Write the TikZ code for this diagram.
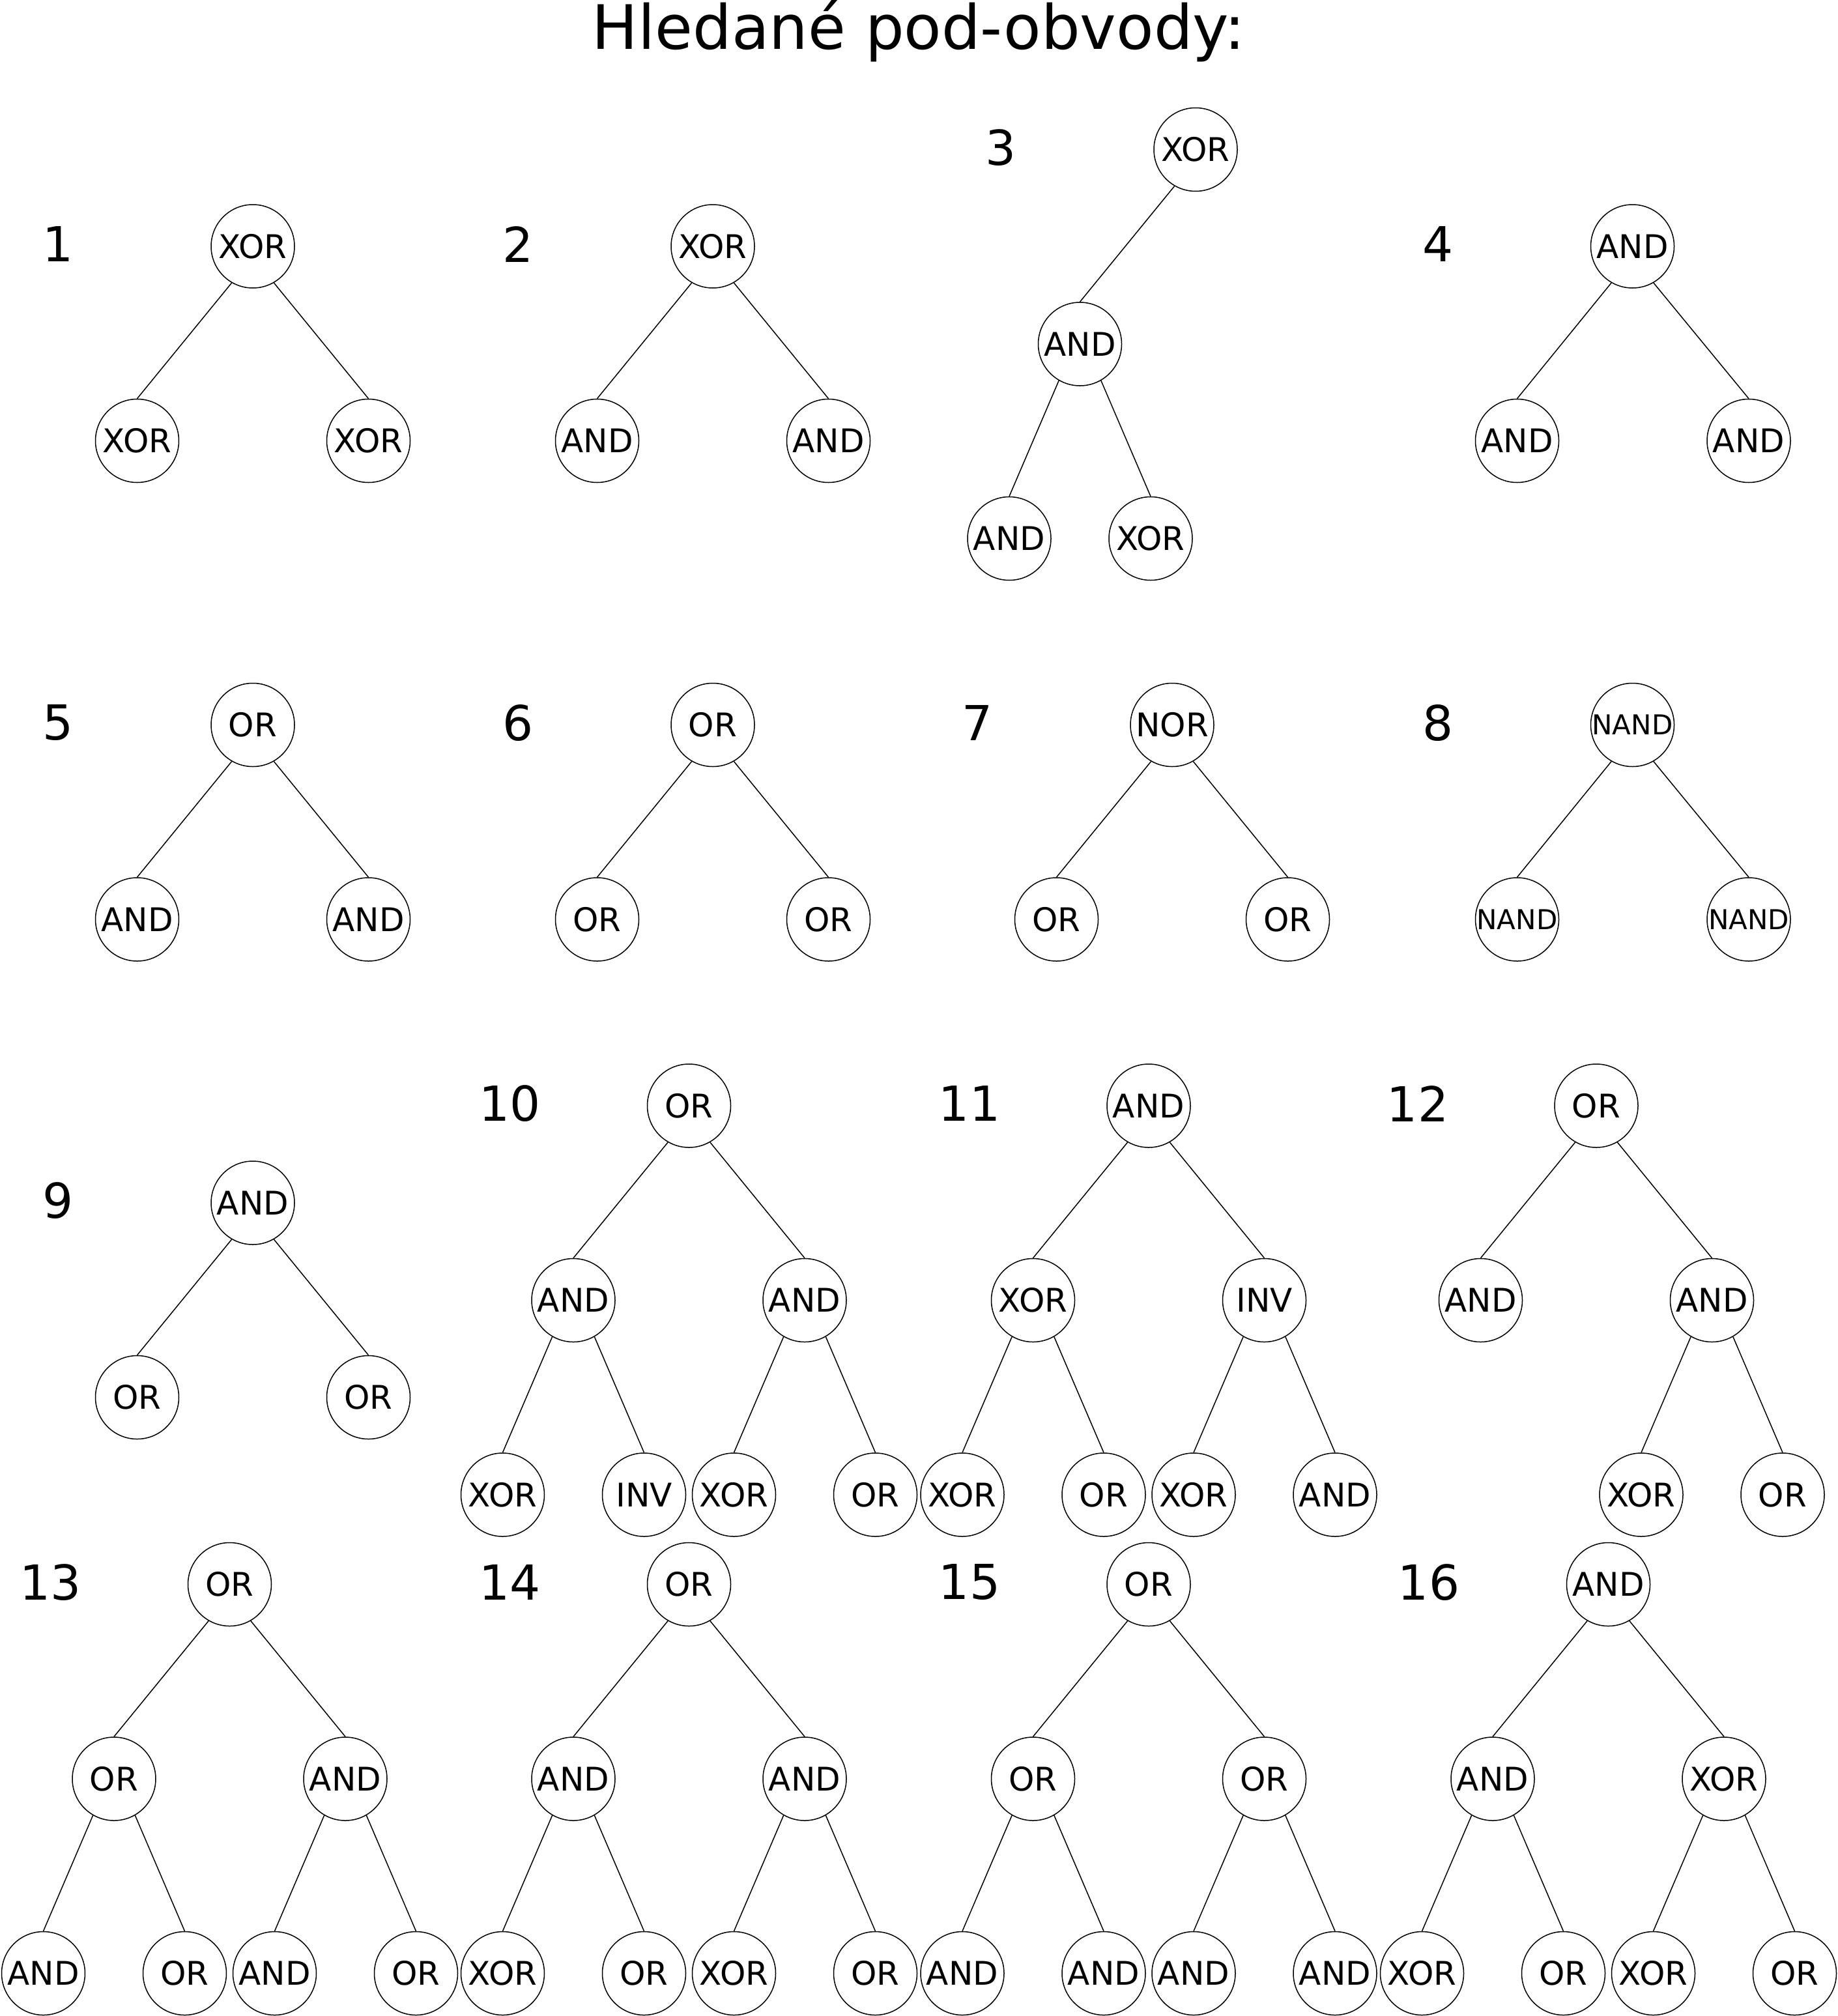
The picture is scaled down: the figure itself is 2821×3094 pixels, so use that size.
\documentclass[tikz,border=0pt]{standalone}
\usepackage{fontspec}
\setmainfont{DejaVu Sans}
\begin{document}
\begin{tikzpicture}[x=1pt, y=-1pt,
    gate/.style={draw, circle, line width=1.5pt, minimum size=128pt, inner sep=0pt,
        font=\fontsize{50}{60}\selectfont},
    small/.style={font=\fontsize{42}{50}\selectfont},
    nr/.style={font=\fontsize{74}{88}\selectfont, inner sep=0pt},
    every path/.style={line width=1.5pt}]
        \useasboundingbox (0, 0) rectangle (2821, 3094);
        \node[anchor=base, font=\fontsize{94}{110}\selectfont] (title) at (1410, 75) {Hledané pod-obvody:};

        % 1
        \node[nr] (n1) at (89.5, 375) {1};
        \node[gate] (g1) at (388, 378) {XOR};
        \node[gate] (g1l) at (210.5, 676.5) {XOR};
        \node[gate] (g1r) at (565.5, 676.5) {XOR};
        \draw (g1.-120) -- (g1l.north) (g1.-60) -- (g1r.north);

        % 2
        \node[nr] (n2) at (795.5, 375) {2};
        \node[gate] (g2) at (1094, 378) {XOR};
        \node[gate] (g2l) at (916.5, 676.5) {AND};
        \node[gate] (g2r) at (1271.5, 676.5) {AND};
        \draw (g2.-120) -- (g2l.north) (g2.-60) -- (g2r.north);

        % 3
        \node[nr] (n3) at (1536.5, 226.5) {3};
        \node[gate] (g3) at (1835, 229.5) {XOR};
        \node[gate] (g3l) at (1657.5, 528) {AND};
        \node[gate] (g3ll) at (1549, 826.5) {AND};
        \node[gate] (g3lr) at (1766, 826.5) {XOR};
        \draw (g3.-120) -- (g3l.north);
        \draw (g3l.-120) -- (g3ll.north) (g3l.-60) -- (g3lr.north);

        % 4
        \node[nr] (n4) at (2207, 375) {4};
        \node[gate] (g4) at (2505.5, 378) {AND};
        \node[gate] (g4l) at (2328.5, 676.5) {AND};
        \node[gate] (g4r) at (2684, 676.5) {AND};
        \draw (g4.-120) -- (g4l.north) (g4.-60) -- (g4r.north);

        % 5
        \node[nr] (n5) at (89.5, 1109.5) {5};
        \node[gate] (g5) at (388, 1112.5) {OR};
        \node[gate] (g5l) at (210.5, 1411) {AND};
        \node[gate] (g5r) at (565.5, 1411) {AND};
        \draw (g5.-120) -- (g5l.north) (g5.-60) -- (g5r.north);

        % 6
        \node[nr] (n6) at (795.5, 1109.5) {6};
        \node[gate] (g6) at (1094, 1112.5) {OR};
        \node[gate] (g6l) at (916.5, 1411) {OR};
        \node[gate] (g6r) at (1271.5, 1411) {OR};
        \draw (g6.-120) -- (g6l.north) (g6.-60) -- (g6r.north);

        % 7
        \node[nr] (n7) at (1500.5, 1109.5) {7};
        \node[gate] (g7) at (1799, 1112.5) {NOR};
        \node[gate] (g7l) at (1621.5, 1411) {OR};
        \node[gate] (g7r) at (1976.5, 1411) {OR};
        \draw (g7.-120) -- (g7l.north) (g7.-60) -- (g7r.north);

        % 8
        \node[nr] (n8) at (2207, 1109.5) {8};
        \node[gate, small] (g8) at (2505.5, 1112.5) {NAND};
        \node[gate, small] (g8l) at (2328.5, 1411) {NAND};
        \node[gate, small] (g8r) at (2684, 1411) {NAND};
        \draw (g8.-120) -- (g8l.north) (g8.-60) -- (g8r.north);

        % 9
        \node[nr] (n9) at (89.5, 1843) {9};
        \node[gate] (g9) at (388, 1846) {AND};
        \node[gate] (g9l) at (210.5, 2144.5) {OR};
        \node[gate] (g9r) at (565.5, 2144.5) {OR};
        \draw (g9.-120) -- (g9l.north) (g9.-60) -- (g9r.north);

        % 10
        \node[nr] (n10) at (782.5, 1694) {10};
        \node[gate] (g10) at (1057.5, 1697) {OR};
        \node[gate] (g10l) at (880, 1995.5) {AND};
        \node[gate] (g10r) at (1235, 1995.5) {AND};
        \node[gate] (g10ll) at (771.5, 2294) {XOR};
        \node[gate] (g10lr) at (988.5, 2294) {INV};
        \node[gate] (g10rl) at (1126.5, 2294) {XOR};
        \node[gate] (g10rr) at (1343.5, 2294) {OR};
        \draw (g10.-120) -- (g10l.north) (g10.-60) -- (g10r.north);
        \draw (g10l.-120) -- (g10ll.north) (g10l.-60) -- (g10lr.north);
        \draw (g10r.-120) -- (g10rl.north) (g10r.-60) -- (g10rr.north);

        % 11
        \node[nr] (n11) at (1488, 1694) {11};
        \node[gate] (g11) at (1763, 1697) {AND};
        \node[gate] (g11l) at (1585.5, 1995.5) {XOR};
        \node[gate] (g11r) at (1940.5, 1995.5) {INV};
        \node[gate] (g11ll) at (1477, 2294) {XOR};
        \node[gate] (g11lr) at (1694, 2294) {OR};
        \node[gate] (g11rl) at (1832, 2294) {XOR};
        \node[gate] (g11rr) at (2049, 2294) {AND};
        \draw (g11.-120) -- (g11l.north) (g11.-60) -- (g11r.north);
        \draw (g11l.-120) -- (g11ll.north) (g11l.-60) -- (g11lr.north);
        \draw (g11r.-120) -- (g11rl.north) (g11r.-60) -- (g11rr.north);

        % 12
        \node[nr] (n12) at (2176, 1694) {12};
        \node[gate] (g12) at (2450, 1697) {OR};
        \node[gate] (g12l) at (2272.5, 1995.5) {AND};
        \node[gate] (g12r) at (2627.5, 1995.5) {AND};
        \node[gate] (g12rl) at (2519, 2294) {XOR};
        \node[gate] (g12rr) at (2736, 2294) {OR};
        \draw (g12.-120) -- (g12l.north) (g12.-60) -- (g12r.north);
        \draw (g12r.-120) -- (g12rl.north) (g12r.-60) -- (g12rr.north);

        % 13
        \node[nr] (n13) at (78, 2428.5) {13};
        \node[gate] (g13) at (352.5, 2431.5) {OR};
        \node[gate] (g13l) at (175, 2730) {OR};
        \node[gate] (g13r) at (530, 2730) {AND};
        \node[gate] (g13ll) at (66.5, 3028.5) {AND};
        \node[gate] (g13lr) at (283.5, 3028.5) {OR};
        \node[gate] (g13rl) at (421.5, 3028.5) {AND};
        \node[gate] (g13rr) at (638.5, 3028.5) {OR};
        \draw (g13.-120) -- (g13l.north) (g13.-60) -- (g13r.north);
        \draw (g13l.-120) -- (g13ll.north) (g13l.-60) -- (g13lr.north);
        \draw (g13r.-120) -- (g13rl.north) (g13r.-60) -- (g13rr.north);

        % 14
        \node[nr] (n14) at (782.5, 2428.5) {14};
        \node[gate] (g14) at (1057.5, 2431.5) {OR};
        \node[gate] (g14l) at (880, 2730) {AND};
        \node[gate] (g14r) at (1235, 2730) {AND};
        \node[gate] (g14ll) at (771.5, 3028.5) {XOR};
        \node[gate] (g14lr) at (988.5, 3028.5) {OR};
        \node[gate] (g14rl) at (1126.5, 3028.5) {XOR};
        \node[gate] (g14rr) at (1343.5, 3028.5) {OR};
        \draw (g14.-120) -- (g14l.north) (g14.-60) -- (g14r.north);
        \draw (g14l.-120) -- (g14ll.north) (g14l.-60) -- (g14lr.north);
        \draw (g14r.-120) -- (g14rl.north) (g14r.-60) -- (g14rr.north);

        % 15
        \node[nr] (n15) at (1488, 2428.5) {15};
        \node[gate] (g15) at (1763, 2431.5) {OR};
        \node[gate] (g15l) at (1585.5, 2730) {OR};
        \node[gate] (g15r) at (1940.5, 2730) {OR};
        \node[gate] (g15ll) at (1477, 3028.5) {AND};
        \node[gate] (g15lr) at (1694, 3028.5) {AND};
        \node[gate] (g15rl) at (1832, 3028.5) {AND};
        \node[gate] (g15rr) at (2049, 3028.5) {AND};
        \draw (g15.-120) -- (g15l.north) (g15.-60) -- (g15r.north);
        \draw (g15l.-120) -- (g15ll.north) (g15l.-60) -- (g15lr.north);
        \draw (g15r.-120) -- (g15rl.north) (g15r.-60) -- (g15rr.north);

        % 16
        \node[nr] (n16) at (2193, 2428.5) {16};
        \node[gate] (g16) at (2468.5, 2431.5) {AND};
        \node[gate] (g16l) at (2291, 2730) {AND};
        \node[gate] (g16r) at (2646, 2730) {XOR};
        \node[gate] (g16ll) at (2182.5, 3028.5) {XOR};
        \node[gate] (g16lr) at (2399.5, 3028.5) {OR};
        \node[gate] (g16rl) at (2537.5, 3028.5) {XOR};
        \node[gate] (g16rr) at (2754.5, 3028.5) {OR};
        \draw (g16.-120) -- (g16l.north) (g16.-60) -- (g16r.north);
        \draw (g16l.-120) -- (g16ll.north) (g16l.-60) -- (g16lr.north);
        \draw (g16r.-120) -- (g16rl.north) (g16r.-60) -- (g16rr.north);
    \end{tikzpicture}
\end{document}
